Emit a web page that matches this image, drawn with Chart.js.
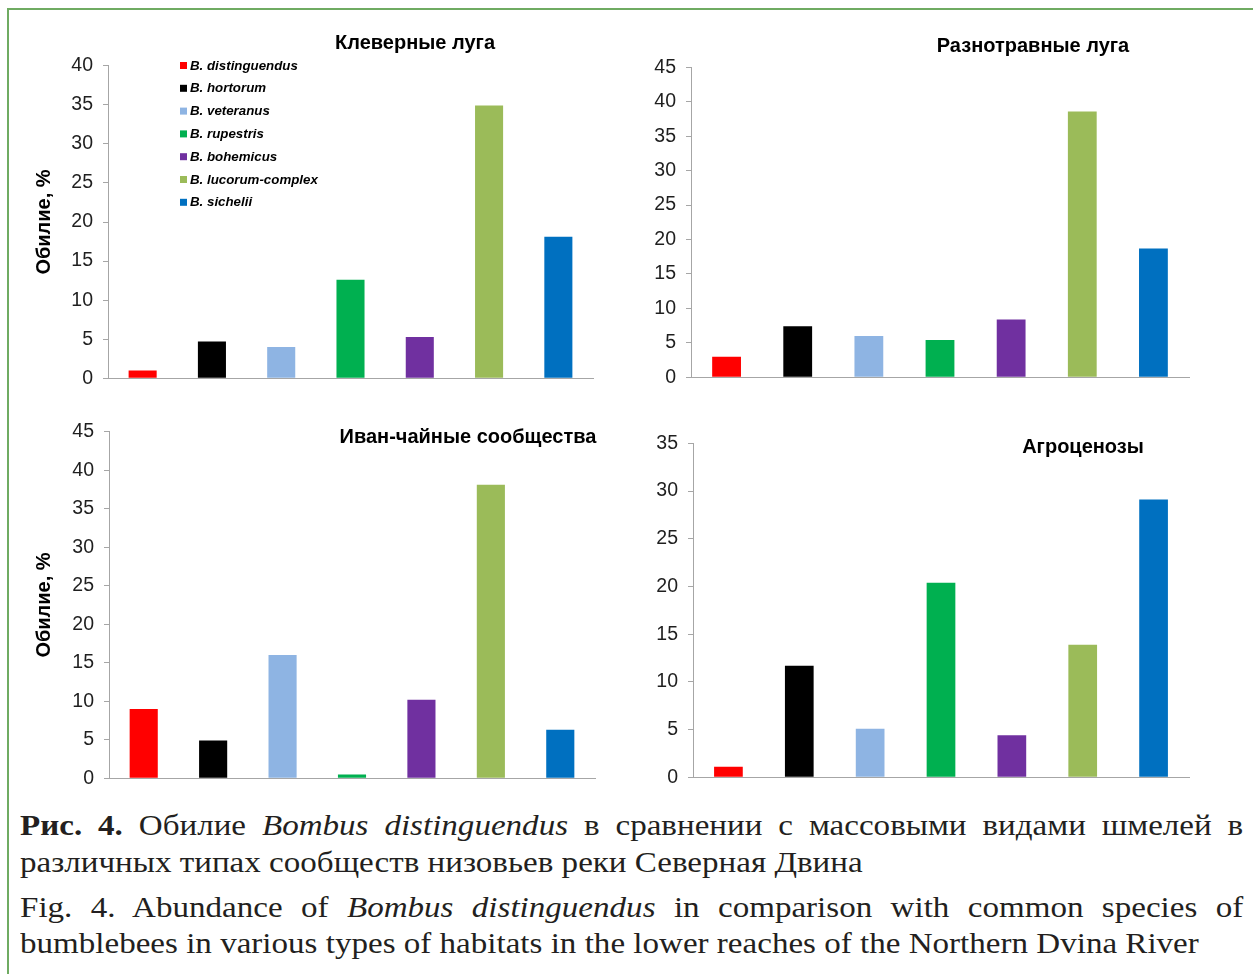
<!DOCTYPE html>
<html>
<head>
<meta charset="utf-8">
<script src="https://cdn.jsdelivr.net/npm/chart.js@4.4.1/dist/chart.umd.min.js"></script>
<style>
    body {
        margin: 0;
        width: 1253px;
        height: 974px;
        background: #ffffff;
        position: relative;
        overflow: hidden;
    }
    #moldura {
        position: absolute;
        left: 7px;
        top: 8px;
        width: 1260px;
        height: 990px;
        border-left: 2px solid #6fab62;
        border-top: 2px solid #6fab62;
    }
    .painel {
        position: absolute;
    }
    .legenda {
        position: absolute;
        left: 20px;
        width: 1073px;
        font-family: "Liberation Serif", "Times New Roman", serif;
        font-size: 29px;
        line-height: 37px;
        color: #231f20;
        white-space: nowrap;
        transform: scaleX(1.14);
        transform-origin: left top;
    }
    .justificado {
        white-space: normal;
        text-align: justify;
        text-align-last: justify;
    }
</style>
</head>
<body>
<div id="moldura"></div>

<div class="painel" id="box1"><canvas id="chart1"></canvas></div>
<div class="painel" id="box2"><canvas id="chart2"></canvas></div>
<div class="painel" id="box3"><canvas id="chart3"></canvas></div>
<div class="painel" id="box4"><canvas id="chart4"></canvas></div>

<div class="legenda justificado" style="top:807px;"><b>Рис. 4.</b> Обилие <i>Bombus distinguendus</i> в сравнении с массовыми видами шмелей в</div>
<div class="legenda" style="top:844px;">различных типах сообществ низовьев реки Северная Двина</div>
<div class="legenda justificado" style="top:889px;">Fig. 4. Abundance of <i>Bombus distinguendus</i> in comparison with common species of</div>
<div class="legenda" style="top:925px;">bumblebees in various types of habitats in the lower reaches of the Northern Dvina River</div>

<script>
    // Espécies (categorias) e cores das barras
    const especies = ['B. distinguendus', 'B. hortorum', 'B. veteranus', 'B. rupestris',
        'B. bohemicus', 'B. lucorum-complex', 'B. sichelii'];
    const coresEspecies = ['#ff0000', '#000000', '#8eb4e3', '#00b050', '#7030a0', '#9bbb59', '#0070c0'];

    // Abundância (%) em cada tipo de comunidade
    const kleverValores = [1.0, 4.7, 4.0, 12.6, 5.3, 34.9, 18.1];
    const raznotravValores = [3.0, 7.4, 6.0, 5.4, 8.4, 38.6, 18.7];
    const ivanChaiValores = [9.0, 4.9, 16.0, 0.5, 10.2, 38.1, 6.3];
    const agroValores = [1.1, 11.7, 5.1, 20.4, 4.4, 13.9, 29.1];

    // Títulos e máximos dos eixos
    const titulos = ['Клеверные луга', 'Разнотравные луга', 'Иван-чайные сообщества', 'Агроценозы'];
    const eixoMax = [40, 45, 45, 35];
    const eixoPasso = 5;
    const tituloEixoY = 'Обилие, %';

    const corEixo = '#a6a6a6';
    const corTexto = '#1f1f1f';

    // Plugin para desenhar o título de cada painel e a legenda do primeiro
    const textoPainel = {
        id: 'textoPainel',
        afterDraw(chart, args, opts) {
            const ctx = chart.ctx;
            ctx.save();
            ctx.fillStyle = '#000';
            ctx.font = 'bold 20px "Liberation Sans", Arial, sans-serif';
            ctx.textAlign = 'center';
            ctx.textBaseline = 'alphabetic';
            ctx.fillText(opts.titulo, opts.tx, opts.ty);

            if (opts.legenda) {
                ctx.font = 'italic bold 13.3px "Liberation Sans", Arial, sans-serif';
                ctx.textAlign = 'left';
                ctx.textBaseline = 'middle';
                for (let i = 0; i < especies.length; i++) {
                    const y = opts.ly + i * 22.8;
                    ctx.fillStyle = coresEspecies[i];
                    ctx.fillRect(opts.lx, y - 3.5, 7, 7);
                    ctx.fillStyle = '#000';
                    ctx.fillText(especies[i], opts.lx + 10, y + 0.5);
                }
            }
            ctx.restore();
        }
    };

    function criarPainel(num, valores, caixa, area, titulo, legenda, comTituloY) {
        const div = document.getElementById('box' + num);
        div.style.left = caixa.x + 'px';
        div.style.top = caixa.y + 'px';
        div.style.width = caixa.w + 'px';
        div.style.height = caixa.h + 'px';

        const larguraY = area.l - caixa.x;
        const alturaX = caixa.y + caixa.h - area.b;

        const ctx = document.getElementById('chart' + num).getContext('2d');
        return new Chart(ctx, {
            type: 'bar',
            data: {
                labels: especies,
                datasets: [{
                    data: valores,
                    backgroundColor: coresEspecies,
                    borderWidth: 0,
                    barPercentage: 0.405,
                    categoryPercentage: 1.0
                }]
            },
            plugins: [textoPainel],
            options: {
                responsive: true,
                maintainAspectRatio: false,
                animation: false,
                layout: {
                    padding: {
                        left: 0,
                        top: area.t - caixa.y,
                        right: caixa.x + caixa.w - area.r,
                        bottom: 0
                    }
                },
                plugins: {
                    legend: { display: false },
                    tooltip: { enabled: false },
                    textoPainel: {
                        titulo: titulo.texto,
                        tx: titulo.x - caixa.x,
                        ty: titulo.y - caixa.y,
                        legenda: legenda,
                        lx: 180 - caixa.x,
                        ly: 65.5 - caixa.y
                    }
                },
                scales: {
                    x: {
                        grid: { display: false },
                        ticks: { display: false },
                        border: { color: corEixo, width: 1 },
                        afterFit: (s) => { s.height = alturaX; }
                    },
                    y: {
                        min: 0,
                        max: eixoMax[num - 1],
                        ticks: {
                            stepSize: eixoPasso,
                            color: corTexto,
                            padding: 10,
                            font: { family: '"Liberation Sans", Arial, sans-serif', size: 19.5 }
                        },
                        grid: {
                            drawOnChartArea: false,
                            drawTicks: true,
                            tickLength: 5,
                            color: corEixo
                        },
                        border: { color: corEixo, width: 1 },
                        title: {
                            display: comTituloY,
                            text: tituloEixoY,
                            color: '#000',
                            padding: { top: 12, bottom: 0 },
                            font: { family: '"Liberation Sans", Arial, sans-serif', size: 20, weight: 'bold' }
                        },
                        afterFit: (s) => { s.width = larguraY; }
                    }
                }
            }
        });
    }

    criarPainel(1, kleverValores,
        { x: 20, y: 20, w: 590, h: 380 },
        { l: 108, t: 65.7, r: 593, b: 378.3 },
        { texto: titulos[0], x: 415, y: 49 }, true, true);

    criarPainel(2, raznotravValores,
        { x: 615, y: 20, w: 600, h: 380 },
        { l: 691, t: 67.3, r: 1189, b: 377.3 },
        { texto: titulos[1], x: 1033, y: 52 }, false, false);

    criarPainel(3, ivanChaiValores,
        { x: 20, y: 405, w: 590, h: 395 },
        { l: 109, t: 431.7, r: 595, b: 779 },
        { texto: titulos[2], x: 468, y: 443 }, false, true);

    criarPainel(4, agroValores,
        { x: 615, y: 405, w: 600, h: 395 },
        { l: 693, t: 443.3, r: 1189, b: 777.3 },
        { texto: titulos[3], x: 1083, y: 453 }, false, false);
</script>
</body>
</html>
